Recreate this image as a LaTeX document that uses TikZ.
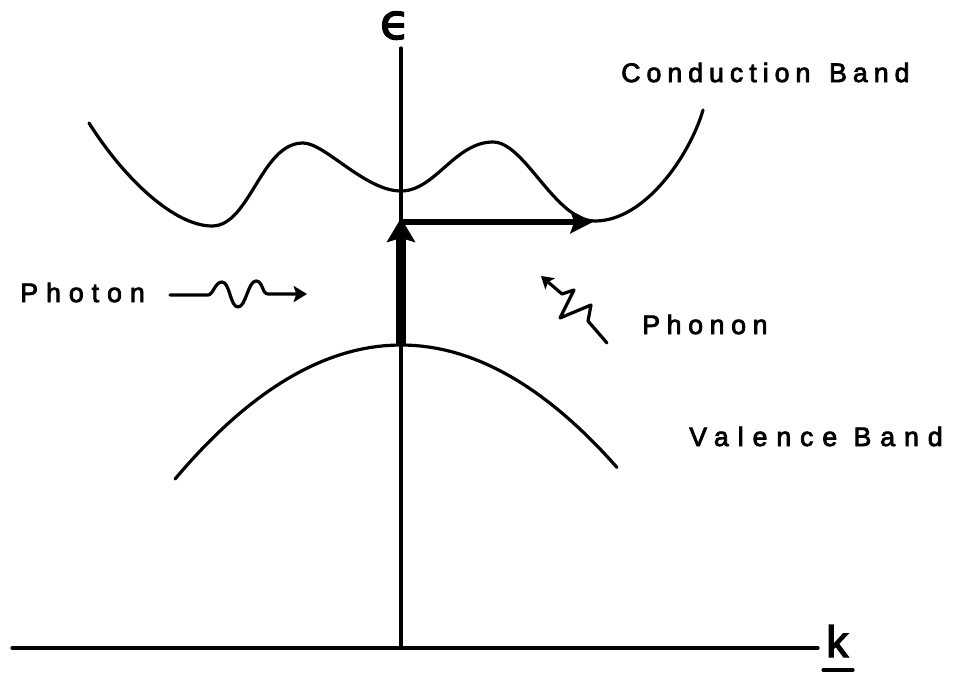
\documentclass[tikz,border=0pt]{standalone}
\usepackage{fontspec}
\setmainfont{Liberation Sans}
\newfontfamily\labfont[FakeBold=3]{Liberation Sans}
\newfontfamily\epsfont[FakeBold=2.5]{DejaVu Sans}
\usetikzlibrary{arrows.meta}
\begin{document}
\begin{tikzpicture}[x=0.75pt,y=-0.75pt,
  thinline/.style={line width=2.4pt, line cap=round, line join=round},
  lab/.style={inner sep=0pt, anchor=base west, font=\labfont\fontsize{20}{24}\selectfont\addfontfeature{LetterSpace=#1}}]
\useasboundingbox (0,0) rectangle (966,674);
% labels
\node[lab=22.6] (cb) at (621,82) {Conduction\hspace{4pt} Band};
\node[lab=33.5] (vb) at (689,446) {Valence Band};
\node[lab=30] (ph) at (20,302) {Photon};
\node[lab=25] (pn) at (642,334) {Phonon};
\node[inner sep=0pt, anchor=base, font=\epsfont\fontsize{37}{37}\selectfont] (eps) at (395,39) {ϵ};
\node[inner sep=0pt, anchor=base west, font=\labfont\fontsize{33}{33}\selectfont] (k) at (826,657) {k};
% axes
\coordinate (O) at (401,648);
\coordinate (ytop) at (401,48);
\coordinate (xl) at (12,648);
\coordinate (xr) at (818,648);
\coordinate (u1) at (823,670);
\coordinate (u2) at (853,670);
\draw[thinline] (ytop) -- (O);
\draw[thinline] (xl) -- (xr);
\draw[thinline] (u1) -- (u2);
% conduction band
\draw[thinline] (89,123) .. controls (125,180) and (175,226) .. (212,226)
  .. controls (250,226) and (261,143) .. (303,143)
  .. controls (325,143) and (365,191) .. (401,191)
  .. controls (435,191) and (455,142) .. (493,142)
  .. controls (525,142) and (555,221) .. (595,221)
  .. controls (645,221) and (690,155) .. (703,110);
% valence band
\draw[thinline] plot[domain=175:617, samples=60] (\x, {345+0.00262*(\x-401)*(\x-401)});
% photon
\coordinate (pstart) at (170,295);
\coordinate (pend) at (307,294);
\draw[thinline, -{Stealth[length=10pt,width=12pt,inset=2pt]}] (pstart) -- (208,295)
  .. controls (213,295) and (215,282) .. (222,282)
  .. controls (230,282) and (230,307) .. (238,307)
  .. controls (246,307) and (248,281) .. (256,281)
  .. controls (263,281) and (262,294) .. (268,294) -- (pend);
% phonon
\coordinate (nt) at (607,343);
\coordinate (nh) at (541,276);
\draw[thinline, -{Stealth[length=9pt,width=11pt,inset=2pt]}] (nt) -- (588,321) -- (591,305) -- (560,318) -- (574,290) -- (562,294) -- (nh);
% transitions
\coordinate (G) at (401,345);
\coordinate (T) at (401,218);
\coordinate (H0) at (401,222);
\coordinate (H1) at (593,222);
\draw[line width=7.5pt, -{Stealth[length=18pt,width=21pt,inset=3pt]}] (G) -- (T);
\draw[line width=4.5pt, -{Stealth[length=17pt,width=17pt,inset=3pt]}] (H0) -- (H1);
\end{tikzpicture}
\end{document}
